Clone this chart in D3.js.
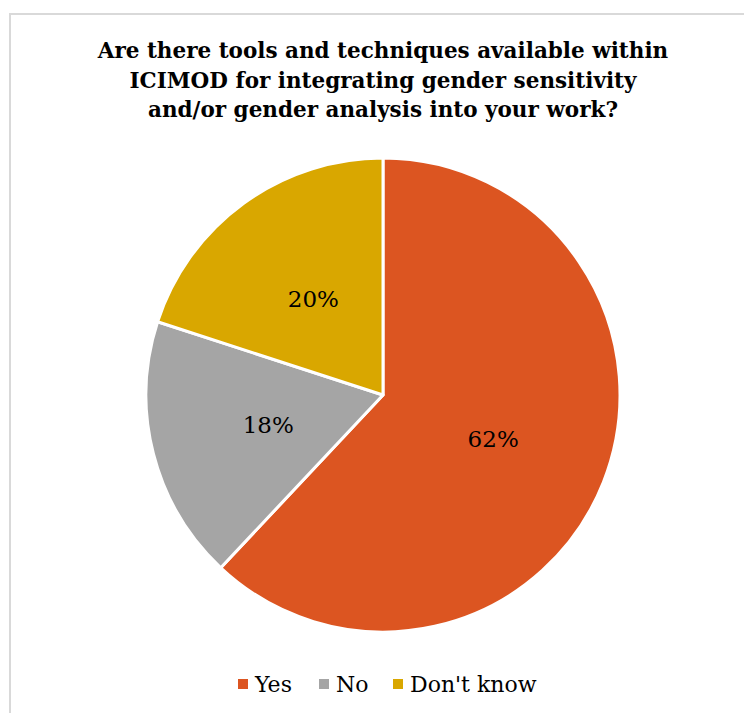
<!DOCTYPE html>
<html><head><meta charset="utf-8">
<script src="https://cdn.jsdelivr.net/npm/d3@7"></script>
<style>body{margin:0;background:#fff}svg{display:block}</style>
</head><body>
<svg id="chart" width="744" height="713"></svg>
<script>
const titleLines = ["Are there tools and techniques available within","ICIMOD for integrating gender sensitivity","and/or gender analysis into your work?"];
const categories = ["Yes","No","Don't know"];
const values = [62,18,20];
const colors = ["#DC5521","#A5A5A5","#D9A700"];

const svg = d3.select("#chart");
// chart border
svg.append("rect").attr("x",10).attr("y",14).attr("width",800).attr("height",800)
  .attr("fill","#fff").attr("stroke","#D9D9D9").attr("stroke-width",2);

const cx = 383, cy = 395, r = 237;
svg.append("g").selectAll("text").data(titleLines).join("text")
  .attr("x",cx).attr("y",(d,i)=>58+i*29.5)
  .attr("text-anchor","middle")
  .attr("font-family","DejaVu Serif").attr("font-weight","bold").attr("font-size",21.5)
  .attr("fill","#000").text(d=>d);

const data = categories.map((c,i)=>({cat:c,value:values[i],color:colors[i]}));
const pie = d3.pie().value(d=>d.value).sort(null);
const arc = d3.arc().innerRadius(0).outerRadius(r);
const arcs = pie(data);
const g = svg.append("g").attr("transform",`translate(${cx},${cy})`);
g.selectAll("path").data(arcs).join("path")
  .attr("d",arc).attr("fill",d=>d.data.color)
  .attr("stroke","#fff").attr("stroke-width",3).attr("stroke-linejoin","round");
g.selectAll("text").data(arcs).join("text")
  .attr("transform",d=>`translate(${arc.centroid(d)})`)
  .attr("text-anchor","middle").attr("dy","0.35em")
  .attr("font-family","DejaVu Serif").attr("font-size",23).attr("fill","#000")
  .text(d=>d.data.value+"%");

// legend
const legendX = [238,319,393];
const lg = svg.append("g");
const items = lg.selectAll("g").data(data).join("g")
  .attr("transform",(d,i)=>`translate(${legendX[i]},679)`);
items.append("rect").attr("width",10).attr("height",10).attr("fill",d=>d.color);
items.append("text").attr("x",17).attr("y",13)
  .attr("font-family","DejaVu Serif").attr("font-size",22).attr("fill","#000")
  .text(d=>d.cat);
</script>
</body></html>
